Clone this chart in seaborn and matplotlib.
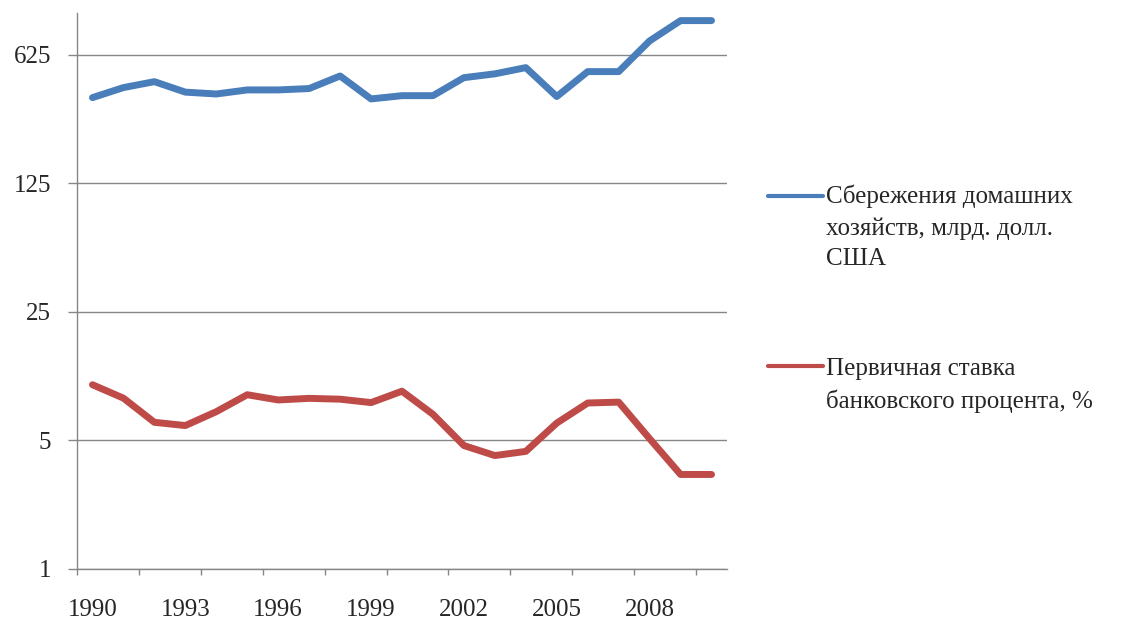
import seaborn as sns
import numpy as np
import pandas as pd
import matplotlib.pyplot as plt
from matplotlib.lines import Line2D

years = list(range(1990, 2011))
savings = [366, 415, 447, 392, 383, 403, 403, 410, 480, 360, 375,
           375, 470, 493, 533, 371, 507, 507, 745, 961, 961]
prime_rate = [10.01, 8.46, 6.25, 6.00, 7.14, 8.83, 8.27, 8.44, 8.35, 8.00, 9.23,
              6.91, 4.67, 4.12, 4.34, 6.19, 7.96, 8.05, 5.09, 3.25, 3.25]
series_names = ['Сбережения домашних\nхозяйств, млрд. долл.\nСША',
                'Первичная ставка\nбанковского процента, %']
colors = ['#4a7ebb', '#be4b48']
ytick_vals = [1, 5, 25, 125, 625]
xtick_years = [1990, 1993, 1996, 1999, 2002, 2005, 2008]

df = pd.DataFrame({
    'year': years * 2,
    'value': savings + prime_rate,
    'series': [series_names[0]] * len(years) + [series_names[1]] * len(years),
})

sns.set_style('white')
plt.rcParams['font.family'] = ['Liberation Serif', 'DejaVu Serif']

fig = plt.figure(figsize=(11.21, 6.19), dpi=100)
ax = fig.add_axes([77 / 1121, 1 - 568.5 / 619, 650 / 1121, (568.5 - 12.7) / 619])

sns.lineplot(data=df, x='year', y='value', hue='series', palette=colors,
             linewidth=5, legend=False, ax=ax, solid_capstyle='round')

ax.set_yscale('log', base=5)
ax.set_ylim(1, 1061)
ax.set_yticks(ytick_vals)
ax.set_yticklabels([str(v) for v in ytick_vals])
ax.yaxis.set_minor_locator(plt.NullLocator())
ax.set_xlim(1989.5, 2010.5)
ax.set_xticks(xtick_years)
ax.set_xticklabels([str(y) for y in xtick_years])
ax.set_xticks(np.arange(1989.5, 2010, 2), minor=True)

ax.grid(axis='y', color='#868686', linewidth=1)
ax.set_axisbelow(True)
for side in ['top', 'right']:
    ax.spines[side].set_visible(False)
for side in ['left', 'bottom']:
    ax.spines[side].set_color('#868686')
    ax.spines[side].set_linewidth(1)

fs = 18
ax.tick_params(axis='y', which='major', length=6.5, width=1, color='#868686',
               direction='out', pad=12, labelsize=fs, left=True)
ax.tick_params(axis='x', which='major', length=0, pad=22, labelsize=fs, bottom=True)
ax.tick_params(axis='x', which='minor', length=4.5, width=1, color='#868686',
               direction='out', bottom=True)
ax.set_xlabel('')
ax.set_ylabel('')

# legend drawn at the right side like the original
legend_rows = [(195.7, 185), (366, 358)]
for name, col, (ly, ty) in zip(series_names, colors, legend_rows):
    fig.add_artist(Line2D([768 / 1121, 823 / 1121], [1 - ly / 619, 1 - ly / 619],
                          color=col, linewidth=3, solid_capstyle='round',
                          transform=fig.transFigure))
    fig.text(826 / 1121, 1 - ty / 619, name, fontsize=fs,
             va='top', ha='left', linespacing=1.5)

fig.savefig('out.png', dpi=100)
